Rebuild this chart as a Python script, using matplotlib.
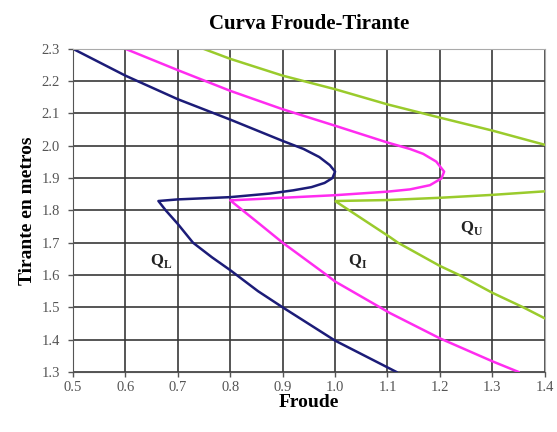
import matplotlib
matplotlib.use("Agg")
import matplotlib.pyplot as plt

# Froude number vs flow depth for three discharges (lower, intermediate, upper)
ql_froude = [0.50, 0.60, 0.70, 0.80, 0.90, 0.94, 0.97, 0.99, 1.00, 0.995, 0.98, 0.955, 0.92, 0.875,
             0.80, 0.70, 0.663,
             0.677, 0.70, 0.729, 0.765, 0.80, 0.853, 0.90, 1.00, 1.105, 1.117]
ql_depth  = [2.30, 2.217, 2.144, 2.081, 2.015, 1.99, 1.965, 1.94, 1.92, 1.90, 1.885, 1.872, 1.862, 1.852,
             1.841, 1.834, 1.829,
             1.80, 1.758, 1.70, 1.655, 1.615, 1.55, 1.50, 1.397, 1.31, 1.30]

qi_froude = [0.60, 0.70, 0.80, 0.90, 1.00, 1.10, 1.143, 1.168, 1.193, 1.208, 1.203, 1.181, 1.143,
             1.10, 1.00, 0.90, 0.80,
             0.856, 0.90, 0.984, 1.00, 1.105, 1.20, 1.30, 1.35]
qi_depth  = [2.30, 2.234, 2.17, 2.113, 2.062, 2.01, 1.99, 1.975, 1.951, 1.92, 1.899, 1.878, 1.865,
             1.858, 1.847, 1.839, 1.831,
             1.758, 1.70, 1.60, 1.58, 1.482, 1.404, 1.333, 1.30]

qu_top_froude = [0.749, 0.80, 0.90, 1.00, 1.10, 1.20, 1.30, 1.40]
qu_top_depth  = [2.30, 2.269, 2.217, 2.175, 2.128, 2.087, 2.047, 2.003]
qu_froude = [1.40, 1.30, 1.20, 1.10, 1.00, 1.105, 1.12, 1.20, 1.237, 1.30, 1.359, 1.40]
qu_depth  = [1.859, 1.848, 1.839, 1.832, 1.829, 1.717, 1.70, 1.628, 1.60, 1.545, 1.50, 1.466]

labels = [("Q", "L", 0.646, 1.644), ("Q", "I", 1.024, 1.644), ("Q", "U", 1.238, 1.744)]

x_ticks = [0.5, 0.6, 0.7, 0.8, 0.9, 1.0, 1.1, 1.2, 1.3, 1.4]
y_ticks = [1.3, 1.4, 1.5, 1.6, 1.7, 1.8, 1.9, 2.0, 2.1, 2.2, 2.3]

plt.rcParams['font.family'] = ['Liberation Serif', 'DejaVu Serif']

fig = plt.figure(figsize=(5.57, 4.32), dpi=100)
ax = fig.add_axes([0.131, 0.139, 0.847, 0.748])

navy = '#1c1c78'
magenta = '#ff2cf0'
green = '#9acb2c'

ax.plot(ql_froude, ql_depth, color=navy, lw=1.8, solid_joinstyle='round')
ax.plot(qi_froude, qi_depth, color=magenta, lw=1.8, solid_joinstyle='round')
ax.plot(qu_top_froude, qu_top_depth, color=green, lw=1.8)
ax.plot(qu_froude, qu_depth, color=green, lw=1.8, solid_joinstyle='miter')

for q, sub, x, y in labels:
    ax.text(x, y, q + r'$_{\mathregular{' + sub + '}}$', fontsize=12, fontweight='bold',
            ha='left', va='center', color='#222222')

ax.set_xlim(0.5, 1.4)
ax.set_ylim(1.3, 2.3)
ax.set_xticks(x_ticks)
ax.set_yticks(y_ticks)
ax.set_xticklabels(['%.1f' % v for v in x_ticks])
ax.set_yticklabels(['%.1f' % v for v in y_ticks])
ax.grid(True, color='#383838', lw=1.2)
ax.set_axisbelow(True)
ax.tick_params(direction='out', length=3.5, width=1, color='#555555',
               labelsize=10.5, labelcolor='#555555')
ax.tick_params(axis='x', pad=3)
ax.tick_params(axis='y', pad=6)
for side in ['top', 'right']:
    ax.spines[side].set_color('#aaaaaa')
    ax.spines[side].set_linewidth(0.8)
for side in ['left', 'bottom']:
    ax.spines[side].set_color('#555555')

ax.set_title('Curva Froude-Tirante', fontsize=15, fontweight='bold', pad=14)
ax.set_xlabel('Froude', fontsize=14, fontweight='bold', labelpad=0)
ax.set_ylabel('Tirante en metros', fontsize=14, fontweight='bold', labelpad=4)

fig.savefig('out.png', dpi=100)
